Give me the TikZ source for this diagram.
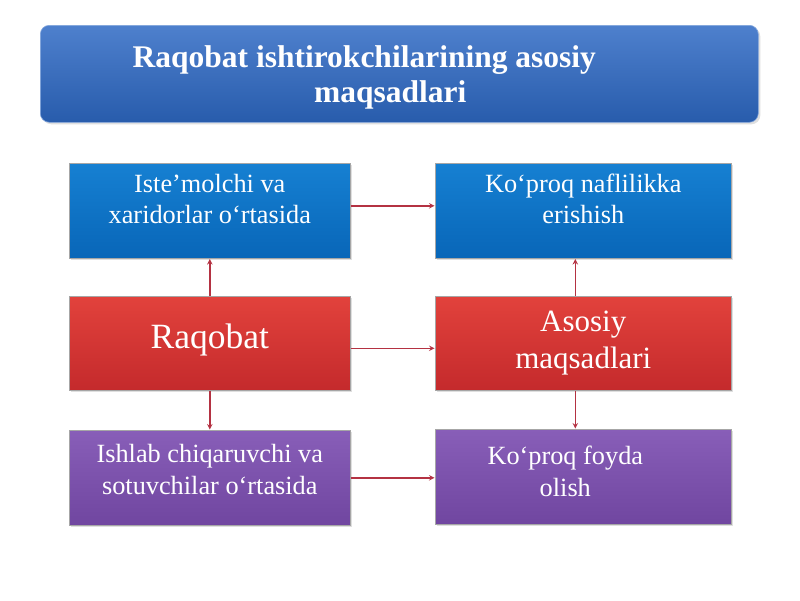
\documentclass[tikz,border=0pt]{standalone}
\usepackage{fontspec}
\setmainfont{Liberation Serif}
\usetikzlibrary{arrows}
\usetikzlibrary{shadows}
\definecolor{titletop}{RGB}{78,128,205}
\definecolor{titlebot}{RGB}{40,92,172}
\definecolor{bluetop}{RGB}{22,128,210}
\definecolor{bluebot}{RGB}{8,102,184}
\definecolor{redtop}{RGB}{226,66,60}
\definecolor{redbot}{RGB}{196,42,44}
\definecolor{purptop}{RGB}{136,94,184}
\definecolor{purpbot}{RGB}{112,70,160}
\definecolor{linkred}{RGB}{180,50,66}
\tikzset{
        box/.style={align=center, inner sep=0pt, text=white, anchor=north west,
            draw=black!35, line width=0.6pt,
            drop shadow={opacity=0.25, shadow xshift=2pt, shadow yshift=-2pt}},
        % Title box
        box_title/.style={box, rounded corners=9pt, draw=titletop!70!white,
            top color=titletop, bottom color=titlebot, text depth=-3pt,
            minimum width=718pt, minimum height=97pt, font=\bfseries\fontsize{31.5}{35}\selectfont},
        % Upper row
        box_blue/.style={box, top color=bluetop, bottom color=bluebot,
            minimum height=95pt, font=\fontsize{26.3}{31}\selectfont},
        % Middle row
        box_red/.style={box, top color=redtop, bottom color=redbot,
            minimum height=94pt},
        % Lower row
        box_purple/.style={box, top color=purptop, bottom color=purpbot,
            minimum height=95pt, font=\fontsize{26.3}{32}\selectfont},
        link/.style={->, >=stealth, draw=linkred, line width=1.4pt, shorten >=0.5pt}
}
\begin{document}
\begin{tikzpicture}[x=1pt, y=-1pt]
    \useasboundingbox[fill=white] (0,0) rectangle (800,600);
    \node[box_title] (title) at (40,25)
        {Raqobat ishtirokchilarining asosiy\hspace*{70pt}\\\hspace*{52pt}maqsadlari\hspace*{70pt}};
    % left column
    \node[box_blue, minimum width=281pt, text depth=24pt] (istemol) at (69,163)
        {Iste’molchi va\\xaridorlar o‘rtasida};
    \node[box_red, minimum width=281pt, font=\fontsize{35.5}{40}\selectfont, text depth=14pt] (raqobat) at (69,296)
        {Raqobat};
    \node[box_purple, minimum width=281pt, text depth=16pt] (ishlab) at (69,430)
        {Ishlab chiqaruvchi va\\sotuvchilar o‘rtasida};
    % right column
    \node[box_blue, minimum width=296pt, text depth=24pt] (naf) at (435,163)
        {Ko‘proq naflilikka\\erishish};
    \node[box_red, minimum width=296pt, font=\fontsize{31}{37}\selectfont, text depth=7pt] (asosiy) at (435,296)
        {Asosiy\\maqsadlari};
    \node[box_purple, minimum width=296pt, text depth=12pt] (foyda) at (435,429)
        {\hspace*{-36pt}Ko‘proq foyda\\\hspace*{-36pt}olish};
    % connectors
    \draw[link] (raqobat) -- (istemol);
    \draw[link] (raqobat) -- (ishlab);
    \draw[link] ([xshift=-8pt]asosiy.north) -- ([xshift=-8pt]naf.south);
    \draw[link] ([xshift=-8pt]asosiy.south) -- ([xshift=-8pt]foyda.north);
    \draw[link] ([yshift=5pt]istemol.east) -- ([yshift=5pt]istemol.east -| naf.west);
    \draw[link] ([yshift=-5pt]raqobat.east) -- ([yshift=-5pt]raqobat.east -| asosiy.west);
    \draw[link] (ishlab.east) -- (ishlab.east -| foyda.west);
\end{tikzpicture}
\end{document}
